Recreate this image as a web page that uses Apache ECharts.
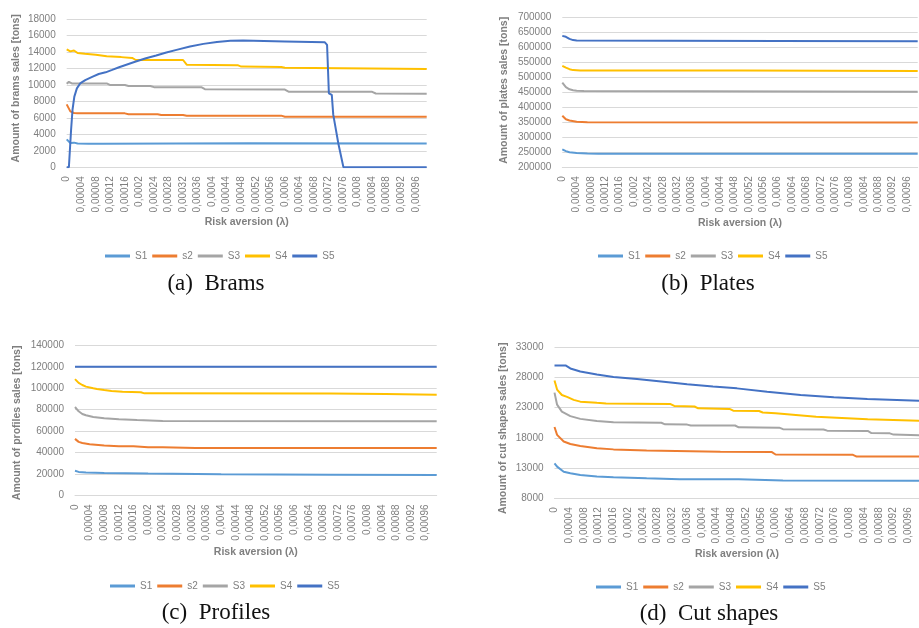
<!DOCTYPE html>
<html>
<head>
<meta charset="utf-8">
<script src="https://cdn.jsdelivr.net/npm/echarts@6/dist/echarts.min.js"></script>
<style>
html,body{margin:0;padding:0;background:#fff}
#chart{width:919px;height:628px}
</style>
</head>
<body>
<div id="chart"></div>
<script>
// x values are risk aversion in units of 0.00001 (lambda = x * 1e-5)
var names = ['S1', 's2', 'S3', 'S4', 'S5'];
var colors = ['#5b9bd5', '#ed7d31', '#a5a5a5', '#ffc000', '#4472c4'];

// (a) Brams
var bramsS1 = [[0,3400],[1,2950],[2,3000],[3,2900],[6,2850],[10,2850],[30,2900],[50,2920],[99,2900]];
var bramsS2 = [[0,7650],[1,6800],[2,6600],[3,6560],[16,6560],[17,6450],[25,6450],[26,6360],[32,6360],[33,6280],[59,6280],[60,6150],[99,6150]];
var bramsS3 = [[0,10150],[0.6,10400],[1.4,10200],[11,10200],[12,10000],[16,10000],[17,9880],[23,9880],[24,9750],[37,9750],[38,9500],[60,9450],[61,9200],[84,9180],[85,8980],[99,8950]];
var bramsS4 = [[0,14350],[1,14100],[2,14200],[3,13900],[5,13800],[8,13700],[11,13500],[15,13400],[18,13300],[19,13050],[32,13050],[33,12480],[47,12420],[48,12250],[59,12200],[60,12100],[99,11950]];
var bramsS5 = [[0,0],[0.6,0],[1.2,4500],[1.6,7000],[2.1,8600],[2.8,9600],[3.7,10200],[5.1,10600],[7,11000],[8.8,11350],[10.7,11550],[12.5,11850],[14.4,12170],[16.2,12450],[19,12860],[21.8,13270],[24.6,13600],[27.4,13960],[30.2,14280],[33.9,14690],[37.6,15010],[41.3,15250],[45,15400],[48.5,15420],[60,15300],[71,15200],[71.6,14900],[72.1,9000],[72.9,8800],[73.3,6400],[74.7,2900],[76.1,0],[99,0]];

// (b) Plates
var platesS1 = [[0,260000],[1,254000],[2,250000],[4,248000],[7,246000],[10,245000],[99,245000]];
var platesS2 = [[0,372000],[1,360000],[2,356000],[4,352000],[7,350000],[99,349000]];
var platesS3 = [[0,482000],[1,467000],[2,460000],[3,457000],[4,455000],[6,454000],[99,452000]];
var platesS4 = [[0,538000],[1,532000],[2,527000],[3,524000],[5,523000],[50,522500],[99,521000]];
var platesS5 = [[0,638000],[1,635000],[2,628000],[3,624000],[4,622500],[30,622000],[60,621000],[99,620000]];

// (c) Profiles
var profilesS1 = [[0,23000],[1,22000],[3,21500],[8,21000],[20,20500],[40,19800],[70,19300],[99,19000]];
var profilesS2 = [[0,52800],[1,50000],[2,49000],[4,47800],[8,46700],[12,46000],[16,45800],[20,45000],[24,44900],[33,44200],[99,44200]];
var profilesS3 = [[0,82500],[1,78500],[2,76000],[3,74800],[5,73200],[8,72000],[12,71000],[17,70300],[24,69500],[99,69200]];
var profilesS4 = [[0,108500],[1,105000],[2,103000],[3,101500],[5,100000],[6,99300],[8,98300],[10,97500],[13,96600],[18,96300],[19,95200],[70,95000],[85,94600],[99,94000]];
var profilesS5 = [[0,120000],[99,120000]];

// (d) Cut shapes
var cutS1 = [[0,13800],[0.7,13250],[2.5,12400],[4.3,12150],[7,11850],[11.5,11600],[16,11480],[25,11300],[34,11150],[50,11150],[62,10950],[99,10900]];
var cutS2 = [[0,19800],[0.7,18500],[2.5,17400],[4.3,17000],[7,16650],[11.5,16300],[16,16100],[25,15900],[33,15850],[45,15700],[59,15650],[60,15250],[81,15200],[82,14900],[99,14900]];
var cutS3 = [[0,25500],[0.7,23500],[2,22350],[4.3,21600],[7,21150],[11.5,20800],[16,20600],[29,20500],[30,20250],[36,20200],[37,20050],[49,20050],[50,19750],[61,19700],[62,19450],[73,19400],[74,19200],[85,19150],[86,18800],[91,18750],[92,18550],[99,18450]];
var cutS4 = [[0,27500],[0.7,26000],[2,25100],[3.4,24800],[5.2,24300],[7,24000],[11.5,23800],[14,23700],[31.5,23600],[32.5,23300],[38,23200],[39,22900],[47.5,22800],[48.5,22500],[55.5,22450],[56.5,22200],[60,22100],[71,21500],[85,21100],[99,20850]];
var cutS5 = [[0,30000],[3,30000],[4.3,29500],[7,29000],[11.5,28500],[16,28100],[22.4,27750],[29.6,27300],[36,26900],[43,26500],[49.5,26200],[57.7,25650],[66.8,25100],[75.8,24720],[84.9,24440],[99,24150]];

var sets = [
    [bramsS1, bramsS2, bramsS3, bramsS4, bramsS5],
    [platesS1, platesS2, platesS3, platesS4, platesS5],
    [profilesS1, profilesS2, profilesS3, profilesS4, profilesS5],
    [cutS1, cutS2, cutS3, cutS4, cutS5]
];
var yTitles = ['Amount of brams sales [tons]', 'Amount of plates sales [tons]', 'Amount of profiles sales [tons]', 'Amount of cut shapes sales [tons]'];
var yMin = [0, 200000, 0, 8000];
var yMax = [18000, 700000, 140000, 33000];
var yStep = [2000, 50000, 20000, 5000];
var captions = ['(a)  Brams', '(b)  Plates', '(c)  Profiles', '(d)  Cut shapes'];

// layout
var grids = [
    {left: 66.7, top: 19.3, width: 360, height: 148},
    {left: 562.3, top: 17.3, width: 355.4, height: 150},
    {left: 75, top: 345.3, width: 361.7, height: 150.2},
    {left: 554.5, top: 347.3, width: 364.8, height: 151}
];
var yNameGap = [45, 53, 52, 45.5];
var yNamePad = [[0,0,0,10], [0,0,0,4], [0,5,0,0], [0,11,0,0]];
var xNameGap = [49, 50, 51, 50.5];
var legendPos = [[105, 251], [598, 251], [110, 581], [596, 582]];
var capPos = [[216, 284], [708, 283.5], [216, 613], [709, 613.5]];

var grey = '#7f7f7f';
var font = 'Liberation Sans';

function lamLabel(v) {
    if (v === 0) return '0';
    var s = (v * 1e-5).toFixed(5).replace(/0+$/, '');
    return s.replace('.', ',');
}
function plainNum(v) {
    return String(v);
}

var xAxes = [], yAxes = [], series = [], legends = [], texts = [];
for (let g = 0; g < 4; g++) {
    xAxes.push({
        type: 'value', gridIndex: g, min: 0, max: 99, interval: 4,
        axisLine: {onZero: false, lineStyle: {color: '#d9d9d9', width: 1}},
        axisTick: {show: false},
        splitLine: {show: false},
        axisLabel: {rotate: 90, fontSize: 10, color: grey, fontFamily: font, margin: 9, showMaxLabel: false, formatter: lamLabel},
        name: 'Risk aversion (λ)', nameLocation: 'middle', nameGap: xNameGap[g],
        nameTextStyle: {fontWeight: 'bold', fontSize: 10.5, color: grey, fontFamily: font}
    });
    yAxes.push({
        type: 'value', gridIndex: g, min: yMin[g], max: yMax[g], interval: yStep[g],
        axisLine: {show: false},
        axisTick: {show: false},
        splitLine: {lineStyle: {color: '#d9d9d9', width: 1}},
        axisLabel: {fontSize: 10, color: grey, fontFamily: font, margin: 11, formatter: plainNum},
        name: yTitles[g], nameLocation: 'middle', nameGap: yNameGap[g],
        nameTextStyle: {fontWeight: 'bold', fontSize: 10.5, color: grey, fontFamily: font, padding: yNamePad[g]}
    });
    for (let k = 0; k < 5; k++) {
        series.push({
            name: names[k], type: 'line', xAxisIndex: g, yAxisIndex: g,
            data: sets[g][k], symbol: 'none', showSymbol: false,
            lineStyle: {width: 2, color: colors[k]},
            itemStyle: {color: colors[k]},
            emphasis: {disabled: true}
        });
    }
    legends.push({
        data: names, left: legendPos[g][0], top: legendPos[g][1], padding: 0,
        icon: 'rect', itemWidth: 25, itemHeight: 3, itemGap: 5, selectedMode: false,
        textStyle: {fontSize: 10, color: grey, fontFamily: font}
    });
    texts.push({
        type: 'text', x: capPos[g][0], y: capPos[g][1],
        style: {text: captions[g], fontSize: 23, fontFamily: 'Liberation Serif', fill: '#111',
            align: 'center', verticalAlign: 'middle', textAlign: 'center', textVerticalAlign: 'middle'}
    });
}

var chart = echarts.init(document.getElementById('chart'));
var option = {
    animation: false,
    backgroundColor: '#fff',
    textStyle: {fontFamily: font},
    grid: grids.map(function (r) { return Object.assign({outerBoundsMode: 'none', containLabel: false}, r); }),
    xAxis: xAxes,
    yAxis: yAxes,
    legend: legends,
    graphic: texts,
    series: series
};
chart.setOption(option);
</script>
</body>
</html>
